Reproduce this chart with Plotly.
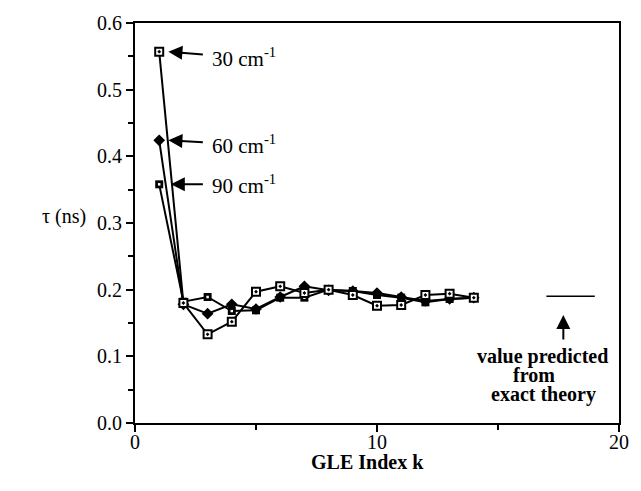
import plotly.graph_objects as go

k = [1, 2, 3, 4, 5, 6, 7, 8, 9, 10, 11, 12, 13, 14]
tau_30 = [0.557, 0.180, 0.133, 0.152, 0.197, 0.205, 0.195, 0.200, 0.192, 0.176, 0.177, 0.192, 0.194, 0.188]
tau_60 = [0.424, 0.178, 0.164, 0.178, 0.171, 0.189, 0.205, 0.199, 0.198, 0.195, 0.189, 0.183, 0.186, 0.188]
tau_90 = [0.358, 0.182, 0.189, 0.168, 0.169, 0.188, 0.188, 0.200, 0.198, 0.192, 0.188, 0.181, 0.186, 0.188]
theory_k = [17, 19]
theory_tau = [0.19, 0.19]

serif = "'Liberation Serif', 'Times New Roman', Times, serif"
fig = go.Figure()
line = dict(color="black", width=2)
fig.add_trace(go.Scatter(x=k, y=tau_90, mode="lines+markers", line=line,
                         marker=dict(symbol="square", size=8, color="black"), showlegend=False))
fig.add_trace(go.Scatter(x=k, y=tau_90, mode="markers",
                         marker=dict(symbol="square", size=2.5, color="white"), showlegend=False))
fig.add_trace(go.Scatter(x=k, y=tau_60, mode="lines+markers", line=line,
                         marker=dict(symbol="diamond", size=9, color="black"), showlegend=False))
fig.add_trace(go.Scatter(x=k, y=tau_30, mode="lines+markers", line=line,
                         marker=dict(symbol="square-dot", size=8, color="white",
                                     line=dict(color="black", width=2)), showlegend=False))
fig.add_trace(go.Scatter(x=theory_k, y=theory_tau, mode="lines",
                         line=dict(color="black", width=1.5), showlegend=False))

labels = [("30 cm<sup>-1</sup>", tau_30[0], 1.38, -0.009), ("60 cm<sup>-1</sup>", tau_60[0], 1.38, -0.006),
          ("90 cm<sup>-1</sup>", tau_90[0], 1.48, 0.0)]
for txt, yv, tipx, dy in labels:
    fig.add_annotation(x=tipx, y=yv, ax=4.52, ay=yv + dy, xref="x", yref="y", axref="x", ayref="y",
                       showarrow=True, arrowhead=2, arrowsize=1.4, arrowwidth=2, arrowcolor="black",
                       text=txt, borderpad=9, font=dict(family=serif, size=21, color="black"))

fig.add_annotation(x=17.7, y=0.162, ax=17.7, ay=0.123, xref="x", yref="y", axref="x", ayref="y",
                   showarrow=True, arrowhead=2, arrowsize=1.4, arrowwidth=2, arrowcolor="black", text="")
for txt, tx, ty in [("value predicted", 16.84, 0.1005), ("from", 16.5, 0.0715), ("exact theory", 16.88, 0.0425)]:
    fig.add_annotation(x=tx, y=ty, xref="x", yref="y", text="<b>" + txt + "</b>", showarrow=False,
                       borderpad=0, font=dict(family=serif, size=20, color="black"))

fig.add_annotation(x=-0.146, y=0.31, xref="paper", yref="y", text="τ (ns)", showarrow=False,
                   xanchor="center", font=dict(family=serif, size=20, color="black"))
fig.add_annotation(x=0.481, y=0, xref="paper", yref="paper", yshift=-39, yanchor="middle",
                   text="<b>GLE Index k</b>", showarrow=False,
                   font=dict(family=serif, size=20, color="black"))

fig.update_layout(
    width=641, height=491, margin=dict(l=135, r=13, t=23, b=68),
    paper_bgcolor="white", plot_bgcolor="white",
    font=dict(family=serif, size=20, color="black"),
    xaxis=dict(range=[0, 20], tickvals=[0, 10, 20], ticks="outside", ticklen=7, tickwidth=2,
               tickcolor="black", showline=True, linecolor="black", linewidth=2, mirror=True,
               showgrid=False, zeroline=False, ticklabelstandoff=-7,
               minor=dict(tickvals=[5, 15], ticks="outside", ticklen=5, tickwidth=2, tickcolor="black"),
               tickfont=dict(family=serif, size=20, color="black")),
    yaxis=dict(range=[0, 0.6], tickvals=[0, 0.1, 0.2, 0.3, 0.4, 0.5, 0.6], tickformat=".1f",
               ticks="outside", ticklen=7, tickwidth=2, tickcolor="black",
               showline=True, linecolor="black", linewidth=2, mirror=True,
               showgrid=False, zeroline=False,
               minor=dict(tickvals=[0.05, 0.15, 0.25, 0.35, 0.45, 0.55], ticks="outside", ticklen=5,
                          tickwidth=2, tickcolor="black"),
               tickfont=dict(family=serif, size=20, color="black")),
)
fig.write_html("out.html")
